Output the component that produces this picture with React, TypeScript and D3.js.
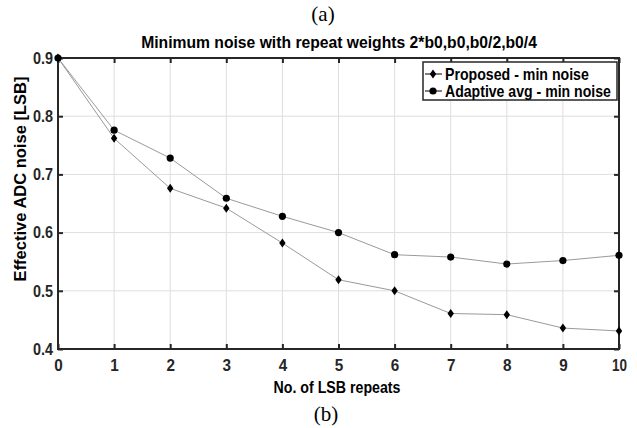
import React, { useEffect, useRef } from 'react';
import * as d3 from 'd3';

// data
const repeats = [0, 1, 2, 3, 4, 5, 6, 7, 8, 9, 10];
const proposedNoise = [0.9, 0.762, 0.676, 0.642, 0.582, 0.519, 0.5, 0.461, 0.459, 0.436, 0.431];
const adaptiveNoise = [0.9, 0.776, 0.728, 0.659, 0.628, 0.6, 0.562, 0.558, 0.546, 0.552, 0.561];
const yTicks = [0.4, 0.5, 0.6, 0.7, 0.8, 0.9];
const seriesNames = ['Proposed - min noise', 'Adaptive avg - min noise'];

const W = 637;
const H = 428;
const FONT = "'Liberation Sans', Arial, sans-serif";
const FS = 16.5;

const App = () => {
  const svgRef = useRef(null);

  useEffect(() => {
    const svg = d3.select(svgRef.current);
    svg.selectAll('*').remove();

    const left = 58, right = 619, top = 58, bottom = 349;
    const x = d3.scaleLinear().domain([0, 10]).range([left, right]);
    const y = d3.scaleLinear().domain([0.4, 0.9]).range([bottom, top]);

    // squeeze a bold label horizontally to the width it has in the figure
    const label = (str, px, py, width, anchor, rotate = 0) => {
      const t = svg.append('text')
        .attr('text-anchor', anchor)
        .attr('font-family', FONT).attr('font-size', FS).attr('font-weight', 'bold')
        .attr('fill', '#000')
        .text(str);
      const natural = t.node().getComputedTextLength() || width;
      const s = Math.min(1, width / natural);
      t.attr('transform', `translate(${px},${py}) rotate(${rotate}) scale(${s},1)`);
      return t;
    };

    svg.append('rect').attr('width', W).attr('height', H).attr('fill', '#fff');

    // grid
    const grid = svg.append('g').attr('stroke', '#dedede').attr('stroke-width', 1);
    grid.selectAll('.gx').data(repeats).join('line')
      .attr('x1', d => x(d)).attr('x2', d => x(d))
      .attr('y1', top).attr('y2', bottom);
    grid.selectAll('.gy').data(yTicks).join('line')
      .attr('x1', left).attr('x2', right)
      .attr('y1', d => y(d)).attr('y2', d => y(d));

    // axes (MATLAB box with inward ticks)
    const axisStyle = (g) => {
      g.select('.domain').remove();
      g.selectAll('.tick line').attr('stroke', '#262626').attr('stroke-width', 2);
      g.selectAll('.tick text')
        .attr('font-family', FONT).attr('font-size', FS).attr('font-weight', 'bold')
        .attr('fill', '#262626').attr('lengthAdjust', 'spacingAndGlyphs');
    };
    svg.append('g').attr('transform', `translate(0,${bottom})`)
      .call(d3.axisBottom(x).tickValues(repeats).tickFormat(d3.format('d')).tickSizeInner(-5).tickSizeOuter(0).tickPadding(10))
      .call(axisStyle)
      .selectAll('.tick text').attr('textLength', d => (d < 10 ? 8.5 : 15));
    svg.append('g').attr('transform', `translate(0,${top})`)
      .call(d3.axisTop(x).tickValues(repeats).tickFormat(() => '').tickSizeInner(-5).tickSizeOuter(0))
      .call(axisStyle);
    svg.append('g').attr('transform', `translate(${left},0)`)
      .call(d3.axisLeft(y).tickValues(yTicks).tickFormat(d3.format('.1f')).tickSizeInner(-5).tickSizeOuter(0).tickPadding(5))
      .call(axisStyle)
      .selectAll('.tick text').attr('textLength', 20);
    svg.append('g').attr('transform', `translate(${right},0)`)
      .call(d3.axisRight(y).tickValues(yTicks).tickFormat(() => '').tickSizeInner(-5).tickSizeOuter(0))
      .call(axisStyle);

    svg.append('rect')
      .attr('x', left).attr('y', top).attr('width', right - left).attr('height', bottom - top)
      .attr('fill', 'none').attr('stroke', '#262626').attr('stroke-width', 2);

    // lines
    const line = d3.line().x(d => x(d[0])).y(d => y(d[1]));
    const proposed = repeats.map((r, i) => [r, proposedNoise[i]]);
    const adaptive = repeats.map((r, i) => [r, adaptiveNoise[i]]);
    [proposed, adaptive].forEach(s => {
      svg.append('path').datum(s).attr('d', line)
        .attr('fill', 'none').attr('stroke', '#9a9a9a').attr('stroke-width', 1);
    });

    const diamond = 'M0,-4.5L3.2,0L0,4.5L-3.2,0Z';
    svg.append('g').selectAll('path').data(proposed).join('path')
      .attr('d', diamond)
      .attr('transform', d => `translate(${x(d[0])},${y(d[1])})`)
      .attr('fill', '#000');
    svg.append('g').selectAll('circle').data(adaptive).join('circle')
      .attr('cx', d => x(d[0])).attr('cy', d => y(d[1])).attr('r', 3.6)
      .attr('fill', '#000');

    // legend
    svg.append('rect').attr('x', 423).attr('y', 62).attr('width', 194).attr('height', 38)
      .attr('fill', '#fff').attr('stroke', '#262626').attr('stroke-width', 1.5);
    const rows = [74, 91];
    rows.forEach((ry, i) => {
      svg.append('line').attr('x1', 425).attr('x2', 442).attr('y1', ry).attr('y2', ry)
        .attr('stroke', '#000').attr('stroke-width', 1);
      if (i === 0) {
        svg.append('path').attr('d', diamond).attr('transform', `translate(433,${ry})`).attr('fill', '#000');
      } else {
        svg.append('circle').attr('cx', 433).attr('cy', ry).attr('r', 3.6).attr('fill', '#000');
      }
      label(seriesNames[i], 445, ry + 6, i === 0 ? 144 : 166, 'start');
    });

    // titles
    label('Minimum noise with repeat weights 2*b0,b0,b0/2,b0/4', 339, 48, 396, 'middle');
    label('No. of LSB repeats', 337, 393, 127, 'middle');
    label('Effective ADC noise [LSB]', 26, 179, 228, 'middle', -90);

    // panel captions
    svg.append('text').attr('x', 323).attr('y', 21).attr('text-anchor', 'middle')
      .attr('font-family', "'Liberation Serif', 'Times New Roman', serif").attr('font-size', 21)
      .text('(a)');
    svg.append('text').attr('x', 326).attr('y', 421).attr('text-anchor', 'middle')
      .attr('font-family', "'Liberation Serif', 'Times New Roman', serif").attr('font-size', 21)
      .text('(b)');
  }, []);

  return (
    <svg ref={svgRef} width={W} height={H}
      style={{ position: 'absolute', left: 0, top: 0, display: 'block' }} />
  );
};

export default App;
